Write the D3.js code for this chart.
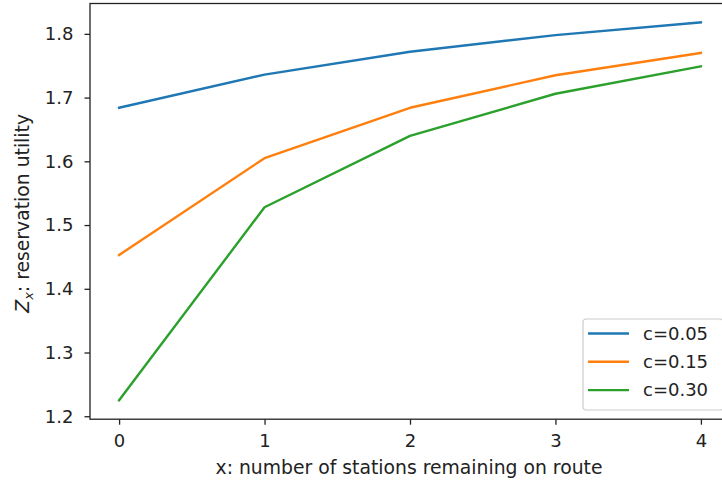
<!DOCTYPE html>
<html>
<head>
<meta charset="utf-8">
<script src="https://cdn.jsdelivr.net/npm/d3@7/dist/d3.min.js"></script>
<style>
  html, body { margin: 0; padding: 0; background: #fff; }
  svg { display: block; font-family: "DejaVu Sans", sans-serif; }
</style>
</head>
<body>
<svg id="chart" width="722" height="483"></svg>
<script>
// Stations remaining on route
const stations = [0, 1, 2, 3, 4];
// Reservation utility Z_x for each cost level
const seriesNames = ["c=0.05", "c=0.15", "c=0.30"];
const utilC005 = [1.684, 1.736, 1.772, 1.798, 1.818];
const utilC015 = [1.453, 1.605, 1.684, 1.735, 1.770];
const utilC030 = [1.225, 1.528, 1.640, 1.706, 1.749];
const seriesColors = ["#1f77b4", "#ff7f0e", "#2ca02c"];
const xTicks = [0, 1, 2, 3, 4];
const yTicks = [1.2, 1.3, 1.4, 1.5, 1.6, 1.7, 1.8];

const series = [utilC005, utilC015, utilC030].map((vals, i) => ({
  name: seriesNames[i],
  color: seriesColors[i],
  points: stations.map((s, j) => ({ x: s, y: vals[j] }))
}));

const svg = d3.select("#chart");
const plot = { left: 90, right: 730, top: 3.5, bottom: 419.2 };

// 5% padding around the data, like a default plotting range
const xExt = d3.extent(stations);
const xPad = (xExt[1] - xExt[0]) * 0.05;
const allY = [].concat(utilC005, utilC015, utilC030);
const yExt = d3.extent(allY);
const yPad = (yExt[1] - yExt[0]) * 0.05;

const x = d3.scaleLinear().domain([xExt[0] - xPad, xExt[1] + xPad]).range([plot.left, plot.right]);
const y = d3.scaleLinear().domain([yExt[0] - yPad, yExt[1] + yPad]).range([plot.bottom, plot.top]);

const ink = "#222";
const tickFont = 18;
const labelFont = 18.8;

// Lines
const line = d3.line().x(d => x(d.x)).y(d => y(d.y));
svg.append("g").selectAll("path").data(series).join("path")
  .attr("d", d => line(d.points))
  .attr("fill", "none")
  .attr("stroke", d => d.color)
  .attr("stroke-width", 2.4)
  .attr("stroke-linejoin", "round")
  .attr("stroke-linecap", "square");

// Frame
svg.append("rect")
  .attr("x", plot.left).attr("y", plot.top)
  .attr("width", plot.right - plot.left).attr("height", plot.bottom - plot.top)
  .attr("fill", "none").attr("stroke", ink).attr("stroke-width", 1.3);

// Axes
const xAxis = svg.append("g")
  .attr("transform", `translate(0,${plot.bottom})`)
  .call(d3.axisBottom(x).tickValues(xTicks).tickFormat(d3.format("d")).tickSize(5.5).tickPadding(8));
const yAxis = svg.append("g")
  .attr("transform", `translate(${plot.left},0)`)
  .call(d3.axisLeft(y).tickValues(yTicks).tickFormat(d3.format(".1f")).tickSize(5.5).tickPadding(11));

[xAxis, yAxis].forEach(g => {
  g.select(".domain").remove();
  g.selectAll(".tick line").attr("stroke", ink).attr("stroke-width", 1.3);
  g.selectAll(".tick text").attr("fill", ink).attr("font-size", tickFont)
    .attr("font-family", "DejaVu Sans, sans-serif");
});
xAxis.selectAll(".tick text").attr("dy", "0.8em");

// Axis titles
svg.append("text")
  .attr("x", (plot.left + 730) / 2 - 1).attr("y", 474)
  .attr("text-anchor", "middle").attr("font-size", labelFont).attr("fill", ink)
  .text("x: number of stations remaining on route");

const yTitle = svg.append("text")
  .attr("transform", `translate(29,${(plot.top + plot.bottom) / 2 + 2}) rotate(-90)`)
  .attr("text-anchor", "middle").attr("font-size", labelFont).attr("fill", ink);
yTitle.append("tspan").attr("font-style", "italic").text("Z");
yTitle.append("tspan").attr("font-style", "italic").attr("font-size", 13).attr("dy", 4).text("x");
yTitle.append("tspan").attr("dy", -4).text(": reservation utility");

// Legend
const legend = svg.append("g").attr("transform", "translate(583,319)");
legend.append("rect")
  .attr("width", 140).attr("height", 91).attr("rx", 3)
  .attr("fill", "#fff").attr("fill-opacity", 0.8)
  .attr("stroke", "#ccc").attr("stroke-width", 1.2);
const items = legend.selectAll("g.item").data(series).join("g")
  .attr("class", "item")
  .attr("transform", (d, i) => `translate(0,${14.5 + i * 28.3})`);
items.append("line")
  .attr("x1", 5).attr("x2", 46)
  .attr("stroke", d => d.color).attr("stroke-width", 2.4);
items.append("text")
  .attr("x", 60).attr("dy", "0.35em")
  .attr("font-size", tickFont).attr("fill", ink)
  .text(d => d.name);
</script>
</body>
</html>
